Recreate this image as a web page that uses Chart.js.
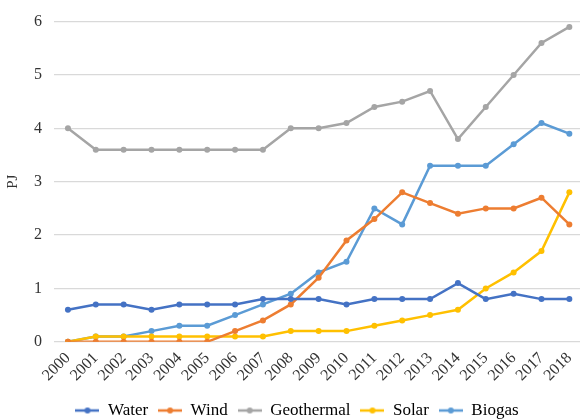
<!DOCTYPE html>
<html>
<head>
<meta charset="utf-8">
<script src="https://cdn.jsdelivr.net/npm/chart.js@4"></script>
<style>
  html, body { margin: 0; padding: 0; background: #fff; overflow: hidden; }
  #wrap { width: 590px; height: 419px; }
</style>
</head>
<body>
<div id="wrap"><canvas id="energyChart" width="590" height="419"></canvas></div>
<script>
"use strict";

const years = ['2000', '2001', '2002', '2003', '2004', '2005', '2006', '2007', '2008', '2009',
    '2010', '2011', '2012', '2013', '2014', '2015', '2016', '2017', '2018'];

const water = [0.6, 0.7, 0.7, 0.6, 0.7, 0.7, 0.7, 0.8, 0.8, 0.8, 0.7, 0.8, 0.8, 0.8, 1.1, 0.8, 0.9, 0.8, 0.8];
const wind = [0, 0, 0, 0, 0, 0, 0.2, 0.4, 0.7, 1.2, 1.9, 2.3, 2.8, 2.6, 2.4, 2.5, 2.5, 2.7, 2.2];
const geothermal = [4, 3.6, 3.6, 3.6, 3.6, 3.6, 3.6, 3.6, 4, 4, 4.1, 4.4, 4.5, 4.7, 3.8, 4.4, 5, 5.6, 5.9];
const solar = [0, 0.1, 0.1, 0.1, 0.1, 0.1, 0.1, 0.1, 0.2, 0.2, 0.2, 0.3, 0.4, 0.5, 0.6, 1.0, 1.3, 1.7, 2.8];
const biogas = [0, 0.1, 0.1, 0.2, 0.3, 0.3, 0.5, 0.7, 0.9, 1.3, 1.5, 2.5, 2.2, 3.3, 3.3, 3.3, 3.7, 4.1, 3.9];

const serif = '"Liberation Serif", "Times New Roman", serif';

// small line-with-dot swatch for the legend
function legendSwatch(color) {
    const c = document.createElement('canvas');
    c.width = 24;
    c.height = 8;
    const g = c.getContext('2d');
    g.strokeStyle = color;
    g.lineWidth = 2.5;
    g.beginPath();
    g.moveTo(0, 4);
    g.lineTo(24, 4);
    g.stroke();
    g.fillStyle = color;
    g.beginPath();
    g.arc(12, 4, 3, 0, Math.PI * 2);
    g.fill();
    return c;
}

function series(label, data, color) {
    return {
        label: label,
        data: data,
        borderColor: color,
        backgroundColor: color,
        borderWidth: 2.5,
        pointRadius: 3,
        pointHoverRadius: 3,
        pointBorderWidth: 0,
        tension: 0,
        swatch: legendSwatch(color)
    };
}

const datasets = [
    series('Water', water, '#4472C4'),
    series('Wind', wind, '#ED7D31'),
    series('Geothermal', geothermal, '#A5A5A5'),
    series('Solar', solar, '#FFC000'),
    series('Biogas', biogas, '#5B9BD5')
];

new Chart(document.getElementById('energyChart'), {
    type: 'line',
    data: { labels: years, datasets: datasets },
    options: {
        responsive: false,
        animation: false,
        layout: { padding: { top: 6, left: 4, right: 0, bottom: -10 } },
        plugins: {
            tooltip: { enabled: false },
            legend: {
                position: 'bottom',
                labels: {
                    font: { family: serif, size: 17 },
                    color: '#333',
                    usePointStyle: true,
                    pointStyleWidth: 24,
                    padding: 10,
                    generateLabels: chart => chart.data.datasets.map((ds, i) => ({
                        text: ds.label,
                        pointStyle: ds.swatch,
                        fillStyle: ds.borderColor,
                        strokeStyle: ds.borderColor,
                        lineWidth: 0,
                        hidden: false,
                        datasetIndex: i
                    }))
                }
            }
        },
        scales: {
            x: {
                offset: true,
                grid: { display: false, drawTicks: false },
                border: { display: false },
                ticks: {
                    font: { family: serif, size: 16 },
                    color: '#333',
                    autoSkip: false,
                    minRotation: 45,
                    maxRotation: 45,
                    padding: 7
                }
            },
            y: {
                min: 0,
                max: 6,
                grid: { color: '#d9d9d9', lineWidth: 1.2, drawTicks: false },
                border: { display: false },
                ticks: {
                    stepSize: 1,
                    font: { family: serif, size: 16 },
                    color: '#333',
                    padding: 12
                },
                title: {
                    display: true,
                    text: 'PJ',
                    font: { family: serif, size: 15 },
                    color: '#333',
                    padding: 0
                }
            }
        }
    }
});
</script>
</body>
</html>
